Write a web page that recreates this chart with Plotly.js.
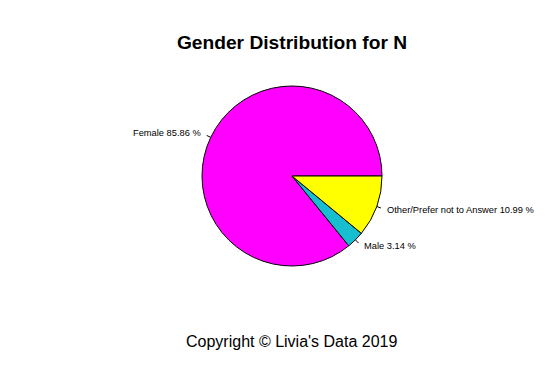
<!DOCTYPE html>
<html>
<head>
<meta charset="utf-8">
<script src="https://cdn.plot.ly/plotly-3.0.1.min.js"></script>
<style>html,body{margin:0;padding:0;background:#fff;}</style>
</head>
<body>
<div id="chart" style="width:545px;height:371px;"></div>
<script>
const categories = ["Female", "Male", "Other/Prefer not to Answer"];
const percents = [85.86, 3.14, 10.99];
const colors = ["#FF00FF", "#17BECF", "#FFFF00"];

const W = 545, H = 371;
const cx = 292, cy = 176, R = 90;

const total = percents.reduce((a, b) => a + b, 0);
const annotations = [];
const shapes = [];
let cum = 0;
percents.forEach((p, i) => {
  const mid = (cum + p / 2) / total * 2 * Math.PI;
  cum += p;
  const c = Math.cos(mid), s = Math.sin(mid);
  const px = r => (cx + r * R * c) / W;
  const py = r => 1 - (cy - r * R * s) / H;
  shapes.push({type: "line", xref: "paper", yref: "paper",
    x0: px(1.0), y0: py(1.0), x1: px(1.05), y1: py(1.05),
    line: {color: "#000", width: 1}});
  annotations.push({xref: "paper", yref: "paper", x: px(1.1), y: py(1.1),
    text: categories[i] + " " + p.toFixed(2) + " %",
    showarrow: false, xanchor: c > 0 ? "left" : "right", yanchor: "middle",
    font: {family: "Liberation Sans, Arial, sans-serif", size: 9.3, color: "#000"}});
});

annotations.push({xref: "paper", yref: "paper", x: 292 / W, y: 1 - 341 / H,
  text: "Copyright © Livia's Data 2019", showarrow: false,
  xanchor: "center", yanchor: "middle",
  font: {family: "Liberation Sans, Arial, sans-serif", size: 16, color: "#000"}});

// Plotly places the first slice clockwise from `rotation`; shift so that the
// first slice starts at 3 o'clock and runs counterclockwise (like R's pie()).
const rotation = 90 + (1 - percents[0] / total) * 360;

const trace = {
  type: "pie",
  values: percents,
  labels: categories,
  sort: false,
  direction: "counterclockwise",
  rotation: rotation,
  textinfo: "none",
  hoverinfo: "none",
  marker: {colors: colors, line: {color: "#000", width: 1}},
  domain: {x: [(cx - R) / W, (cx + R) / W], y: [1 - (cy + R) / H, 1 - (cy - R) / H]},
  showlegend: false
};

const layout = {
  width: W, height: H,
  margin: {l: 0, r: 0, t: 0, b: 0},
  paper_bgcolor: "#fff",
  title: {text: "<b>Gender Distribution for N</b>", x: 292 / W, xanchor: "center",
    y: 1 - 42 / H, yanchor: "middle",
    font: {family: "Liberation Sans, Arial, sans-serif", size: 19.2, color: "#000"}},
  annotations: annotations,
  shapes: shapes
};

Plotly.newPlot("chart", [trace], layout, {staticPlot: true});
</script>
</body>
</html>
